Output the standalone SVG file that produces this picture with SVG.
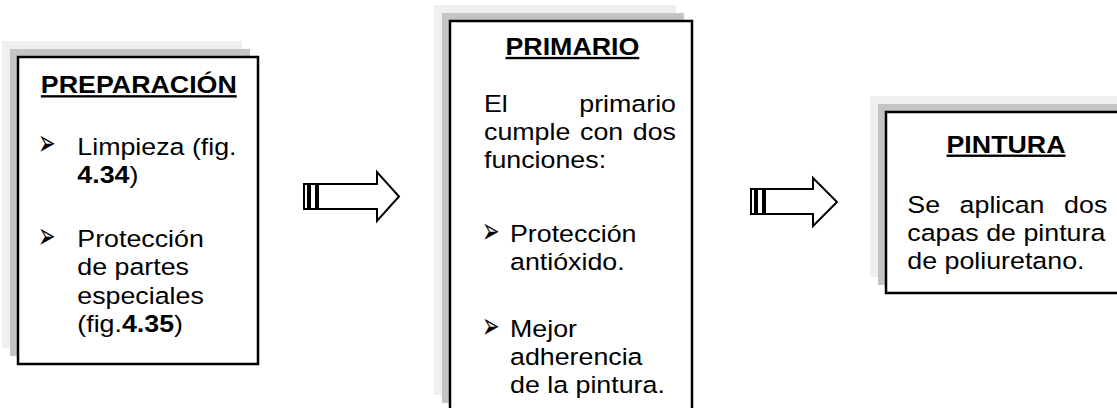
<svg xmlns="http://www.w3.org/2000/svg" width="1117" height="408" viewBox="0 0 1117 408">
<style>
.t{font-family:"Liberation Sans",Arial,sans-serif;font-size:23.5px;fill:#000}
.h{font-weight:bold;text-decoration:underline;text-anchor:middle}
.e{text-anchor:end}
.bl{font-family:"DejaVu Sans",sans-serif;font-size:36px;fill:#000}
.box{fill:#fff;stroke:#000;stroke-width:2.5}
.s1{fill:#efefef}
.s2{fill:#c4c4c4}
.arrow{fill:#fff;stroke:#000;stroke-width:2}
</style>
<rect width="1117" height="408" fill="#fff"/>
<g id="preparacion">
<rect class="s1" x="2" y="41" width="240" height="307"/>
<rect class="s2" x="10" y="49" width="240" height="307"/>
<rect class="box" x="18" y="57" width="240" height="307"/>
<text class="t h" transform="matrix(1.14 0 0 1 138.8 93.3)">PREPARACIÓN</text>
<text class="bl" transform="matrix(0.58 0 0 1 38 155)">➢</text>
<text class="t" transform="matrix(1.14 0 0 1 77.3 154.5)">Limpieza (fig.</text>
<text class="t" transform="matrix(1.14 0 0 1 77.3 183)"><tspan font-weight="bold">4.34</tspan>)</text>
<text class="bl" transform="matrix(0.58 0 0 1 38 248)">➢</text>
<text class="t" transform="matrix(1.14 0 0 1 77.3 247)">Protección</text>
<text class="t" transform="matrix(1.14 0 0 1 77.3 275.3)">de partes</text>
<text class="t" transform="matrix(1.14 0 0 1 77.3 303.6)">especiales</text>
<text class="t" transform="matrix(1.14 0 0 1 77.3 331.9)">(fig.<tspan font-weight="bold">4.35</tspan>)</text>
</g>
<g id="primario">
<rect class="s1" x="434" y="5" width="242" height="390"/>
<rect class="s2" x="442" y="13" width="242" height="390"/>
<rect class="box" x="450" y="21" width="242" height="390"/>
<text class="t h" transform="matrix(1.14 0 0 1 572.4 55)">PRIMARIO</text>
<text class="t" transform="matrix(1.14 0 0 1 484 111.7)">El</text>
<text class="t e" transform="matrix(1.14 0 0 1 676 111.7)">primario</text>
<text class="t" transform="matrix(1.14 0 0 1 484 140)">cumple</text>
<text class="t" transform="matrix(1.14 0 0 1 580 140)">con</text>
<text class="t e" transform="matrix(1.14 0 0 1 676 140)">dos</text>
<text class="t" transform="matrix(1.14 0 0 1 484 168.3)">funciones:</text>
<text class="bl" transform="matrix(0.58 0 0 1 482 243)">➢</text>
<text class="t" transform="matrix(1.14 0 0 1 510 241.7)">Protección</text>
<text class="t" transform="matrix(1.14 0 0 1 510 270)">antióxido.</text>
<text class="bl" transform="matrix(0.58 0 0 1 482 338)">➢</text>
<text class="t" transform="matrix(1.14 0 0 1 510 336.7)">Mejor</text>
<text class="t" transform="matrix(1.14 0 0 1 510 365)">adherencia</text>
<text class="t" transform="matrix(1.14 0 0 1 510 393.3)">de la pintura.</text>
</g>
<g id="pintura">
<rect class="s1" x="870" y="96" width="250" height="181"/>
<rect class="s2" x="878" y="104" width="250" height="181"/>
<rect class="box" x="886" y="112" width="250" height="181"/>
<text class="t h" transform="matrix(1.14 0 0 1 1006 152.7)">PINTURA</text>
<text class="t" transform="matrix(1.14 0 0 1 907.3 213.3)">Se</text>
<text class="t" transform="matrix(1.14 0 0 1 959.6 213.3)">aplican</text>
<text class="t e" transform="matrix(1.14 0 0 1 1107.3 213.3)">dos</text>
<text class="t" transform="matrix(1.14 0 0 1 907.3 241.3)">capas de pintura</text>
<text class="t" transform="matrix(1.14 0 0 1 907.3 269.3)">de poliuretano.</text>
</g>
<g id="connectors">
<g id="arrow1">
<rect class="arrow" x="304" y="184" width="4" height="25"/>
<rect class="arrow" x="310" y="184" width="6" height="25"/>
<path class="arrow" d="M318,184 H377 V172 L399,196.5 L377,221 V209 H318 Z"/>
</g>
<g id="arrow2">
<rect class="arrow" x="751" y="189" width="4" height="25"/>
<rect class="arrow" x="757" y="189" width="6" height="25"/>
<path class="arrow" d="M765,189 H813 V178 L837,202 L813,226 V214 H765 Z"/>
</g>
</g>
</svg>
